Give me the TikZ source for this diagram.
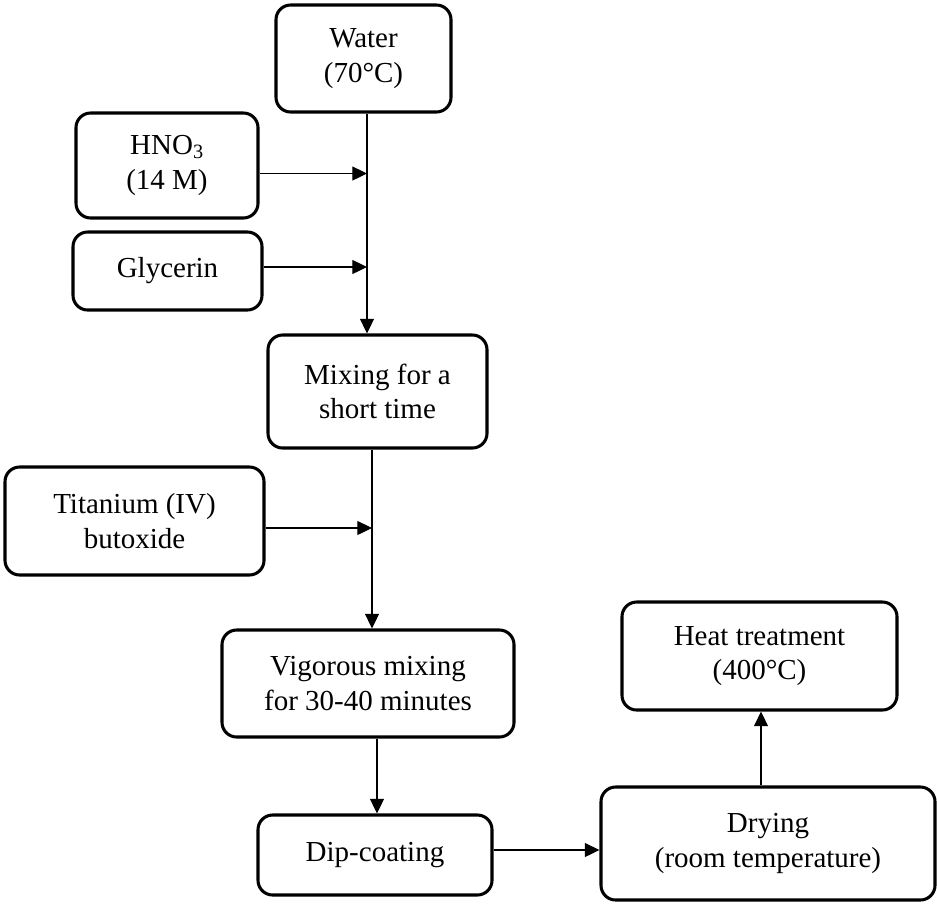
\documentclass[tikz,border=0pt]{standalone}
\usepackage{fontspec}
\setmainfont{Liberation Serif}
\usetikzlibrary{arrows.meta}
\tikzset{
  box/.style={draw, line width=2.3pt, rounded corners=11pt, align=center,
    inner sep=0pt, font=\fontsize{21.75}{26}\selectfont},
  arr/.style={line width=0.9pt, -{Triangle[length=11pt,width=10.5pt]}},
}
\newcommand{\bx}[6]{\node[box, minimum width=#4*0.75pt, minimum height=#5*0.75pt] (#1) at (#2,#3) {#6};}
\begin{document}
\begin{tikzpicture}[x=0.75pt,y=-0.75pt]
\useasboundingbox (0,0) rectangle (937,911);
\bx{water}{363.5}{58.5}{175}{107}{Water\\(70°C)}
\bx{hno}{167}{165.5}{182}{105}{HNO\textsubscript{3}\\(14 M)}
\bx{gly}{167.5}{271}{189}{78}{Glycerin}
\bx{mix}{377.5}{391.5}{219}{113}{Mixing for a\\short time}
\bx{ti}{134.5}{521}{259}{108}{Titanium (IV)\\butoxide}
\bx{vig}{368}{683.5}{292}{107}{Vigorous mixing\\for 30-40 minutes}
\bx{dip}{375}{855}{234}{80}{Dip-coating}
\bx{dry}{768}{843.5}{334}{113}{Drying\\(room temperature)}
\bx{heat}{759.5}{656}{275}{108}{Heat treatment\\(400°C)}
\coordinate (t1) at (367,0);
\coordinate (t2) at (372,0);
\coordinate (t3) at (377,0);
\coordinate (t4) at (761,0);
\coordinate (j1) at (367,173.5);
\coordinate (j2) at (367,267);
\coordinate (j3) at (372,528);
\coordinate (j4) at (0,850);
\draw[arr] (water.south -| t1) -- (mix.north -| t1);
\draw[arr] (hno.east |- j1) -- (j1);
\draw[arr] (gly.east |- j2) -- (j2);
\draw[arr] (mix.south -| t2) -- (vig.north -| t2);
\draw[arr] (ti.east |- j3) -- (j3);
\draw[arr] (vig.south -| t3) -- (dip.north -| t3);
\draw[arr] (dip.east |- j4) -- (dry.west |- j4);
\draw[arr] (dry.north -| t4) -- (heat.south -| t4);
\end{tikzpicture}
\end{document}
